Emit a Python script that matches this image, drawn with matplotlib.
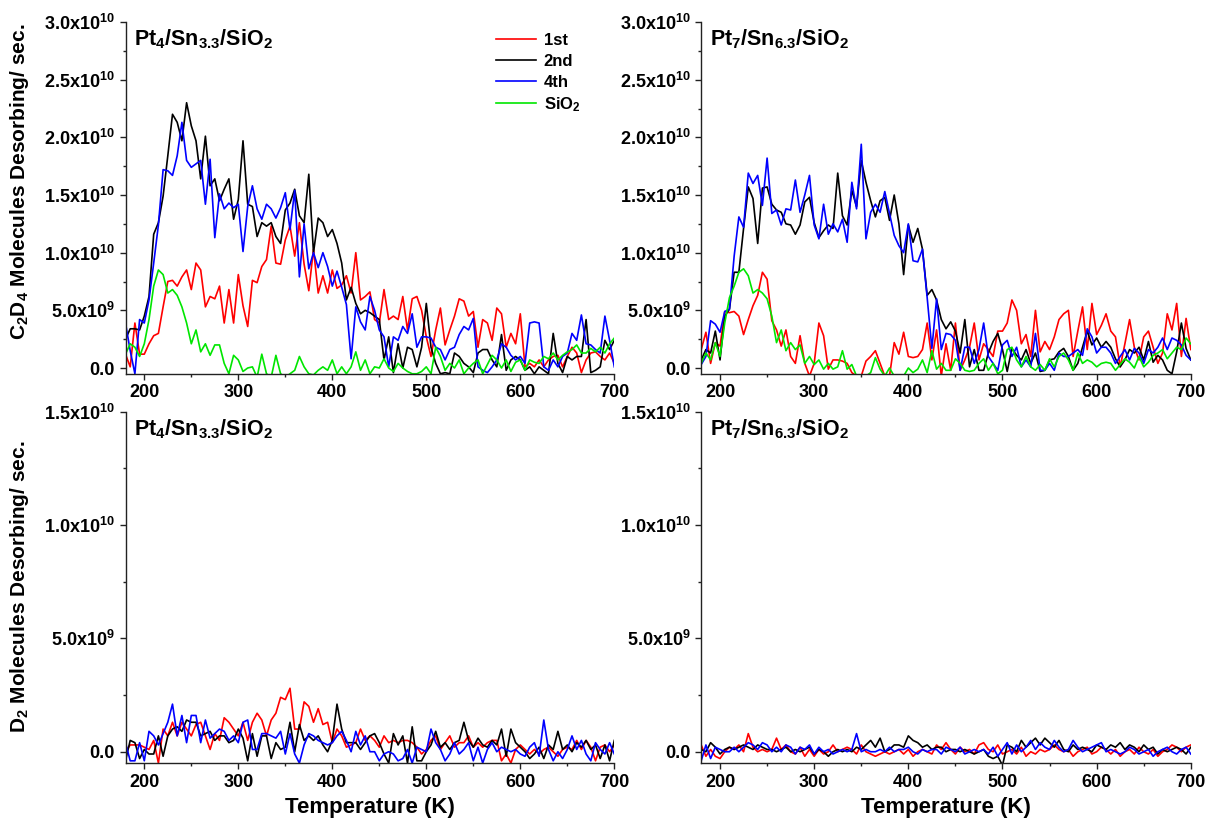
import numpy as np
import matplotlib
matplotlib.use("Agg")
import matplotlib.pyplot as plt
from matplotlib.ticker import FixedLocator, MultipleLocator, FuncFormatter

plt.rcParams['font.family'] = ['Liberation Sans', 'DejaVu Sans']
plt.rcParams['font.weight'] = 'bold'
plt.rcParams['mathtext.fontset'] = 'custom'
plt.rcParams['mathtext.rm'] = 'Liberation Sans:bold'
plt.rcParams['mathtext.bf'] = 'Liberation Sans:bold'
plt.rcParams['mathtext.it'] = 'Liberation Sans:bold:italic'
plt.rcParams['mathtext.sf'] = 'Liberation Sans:bold'
plt.rcParams['mathtext.default'] = 'bf'

# Temperature grid (K)
temperature = np.arange(180, 701, 5)
UNIT = 1e9  # values below are in units of 1e9 molecules/s

# ---- C2D4, Pt4/Sn3.3/SiO2 ----
c2d4_pt4_1st = [
    1.2, 0.1, 3.9, 1.2, 1.2, 2.1, 2.8, 3.0, 5.3, 7.5,
    7.6, 7.1, 7.9, 8.5, 6.8, 9.1, 8.5, 5.3, 6.2, 6.0,
    7.1, 3.9, 6.8, 3.9, 8.1, 5.4, 3.6, 7.6, 7.4, 8.8,
    9.4, 12.3, 9.1, 9.0, 11.1, 12.3, 9.7, 12.6, 9.0, 6.7,
    10.3, 6.5, 8.0, 6.5, 8.5, 6.9, 7.2, 8.0, 6.5, 10.0,
    5.9, 6.2, 6.6, 4.2, 3.9, 6.8, 4.2, 4.5, 4.2, 6.2,
    3.3, 6.0, 6.2, 5.0, 2.7, 1.0, 3.3, 5.2, 2.0, 3.3,
    4.5, 6.0, 5.8, 4.5, 4.9, 1.8, 4.2, 3.9, 2.4, 5.2,
    4.7, 1.8, 3.0, 2.1, 4.7, 0.1, 0.4, 0.1, 0.7, 0.1,
    0.7, 1.0, 1.1, 0.1, 1.0, 1.8, 1.3, -0.4, 0.7, 1.3,
    1.4, 1.0, 0.7, 1.3, 0.4]
c2d4_pt4_2nd = [
    2.5, 3.4, 3.4, 3.3, 4.5, 6.2, 11.6, 12.6, 14.9, 18.4,
    22.0, 21.3, 19.7, 23.0, 21.0, 19.7, 16.4, 20.1, 15.8, 16.4,
    14.5, 15.5, 16.4, 12.9, 14.6, 19.7, 14.2, 14.0, 11.4, 12.6,
    12.3, 12.6, 11.4, 10.8, 13.7, 14.3, 15.5, 13.2, 12.6, 16.8,
    10.0, 13.0, 12.6, 11.4, 12.0, 10.8, 9.1, 5.9, 7.0, 5.6,
    4.7, 5.0, 4.8, 4.5, 4.2, 0.7, 2.7, -0.4, 2.1, 0.0,
    1.8, 1.6, 0.1, 1.8, 5.6, 1.8, 0.4, -0.5, -0.4, -0.5,
    1.3, 1.0, 0.4, 0.1, -0.4, 1.3, 1.6, 1.6, 0.7, 0.1,
    2.9, -0.2, 0.7, 1.0, 0.7, -0.2, 0.1, -0.5, 0.1, -0.2,
    -0.5, 3.0, 0.4, -0.4, 1.0, 0.7, 1.0, 1.0, 4.2, -0.4,
    -0.2, 0.1, 2.4, 1.6, 2.4]
c2d4_pt4_4th = [
    3.9, 1.5, -0.5, 4.2, 3.9, 5.9, 9.1, 12.4, 17.2, 17.1,
    16.7, 18.4, 21.3, 18.0, 17.4, 17.7, 18.0, 14.2, 18.1, 11.3,
    15.1, 13.8, 14.3, 13.9, 14.2, 10.1, 14.0, 15.8, 13.8, 12.9,
    14.2, 13.8, 13.0, 13.9, 15.2, 12.0, 15.4, 7.9, 12.5, 8.6,
    10.0, 8.7, 10.0, 8.8, 7.1, 8.4, 7.0, 5.5, 0.8, 5.3,
    4.0, 3.3, 6.2, 5.0, 3.3, 2.7, 0.1, 2.7, 2.4, 3.6,
    3.0, 4.7, 1.8, 2.7, 2.7, 2.6, 1.8, 1.6, 0.7, 1.6,
    1.8, 2.9, 3.6, 3.3, 4.3, 0.1, -0.2, -0.4, 0.1, 0.7,
    2.1, 1.8, 1.1, 0.7, 1.0, 0.4, 3.9, 4.0, 3.9, 0.1,
    -0.2, 0.7, 0.1, 1.0, 1.3, 3.0, 2.4, 4.6, 2.1, 2.0,
    1.6, 1.3, 4.5, 2.4, 0.1]
c2d4_pt4_sio2 = [
    1.2, 2.1, 1.8, 1.0, 2.1, 4.2, 7.1, 8.5, 8.1, 6.5,
    6.8, 6.3, 5.3, 3.9, 2.1, 3.3, 1.4, 2.1, 1.1, 2.0,
    2.0, 0.4, -0.5, 1.1, 0.7, -0.3, 0.0, 0.1, -0.8, 1.2,
    -0.5, -0.8, 1.1, -0.5, -0.8, -0.5, -0.2, 1.0, 0.1, -0.5,
    -0.6, -0.2, 0.1, -0.2, 0.7, -0.5, 0.1, -0.5, 0.1, 1.4,
    -0.2, 0.7, -0.5, 0.1, 0.0, 0.8, 0.0, -0.3, 0.4, 0.0,
    -0.3, -0.5, -0.5, -0.3, 0.1, -0.5, 1.8, 1.0, -0.2, 0.4,
    0.0, 0.7, -0.5, 0.0, 0.4, 0.7, -0.5, 0.3, 1.1, 0.7,
    0.0, 0.7, -0.3, 0.5, 0.7, -0.2, 0.7, 0.5, 0.4, 1.0,
    0.8, 1.3, 0.7, 1.1, 1.4, 1.6, 2.0, 1.3, 1.3, 1.7,
    1.4, 1.8, 1.3, 2.1, 2.6]

# ---- C2D4, Pt7/Sn6.3/SiO2 ----
c2d4_pt7_1st = [
    1.6, 3.1, 0.4, 2.2, 1.9, 4.9, 4.8, 4.9, 4.5, 2.9,
    4.2, 5.4, 6.3, 8.3, 7.7, 4.1, 3.3, 1.9, 3.3, 1.0,
    0.4, 2.8, 0.4, -0.7, 0.4, 3.9, 2.8, -0.1, 0.7, 0.7,
    0.6, 0.4, -0.4, -0.7, -0.7, 0.6, 1.0, 1.5, 0.4, -0.7,
    -0.7, 2.2, 1.2, 3.1, 1.0, 0.9, 1.0, 1.6, 3.9, 0.7,
    3.3, -0.7, 2.1, -0.2, 3.9, -0.2, 0.7, 1.8, 3.9, 0.7,
    2.1, 1.6, 1.0, 3.2, 3.2, 3.9, 5.9, 5.0, 2.1, 2.9,
    1.0, 5.0, 1.4, 2.3, 1.6, 2.7, 4.2, 4.7, 5.0, 1.0,
    3.2, 5.3, 1.6, 5.6, 2.9, 3.7, 4.7, 3.2, 2.7, 0.1,
    2.1, 4.2, 1.8, 0.7, 2.7, 3.2, 1.8, 0.4, 1.3, 4.7,
    3.3, 5.6, 1.0, 4.3, 1.6]
c2d4_pt7_2nd = [
    0.7, 1.6, 1.3, 3.2, 0.7, 4.5, 5.1, 8.3, 8.3, 12.1,
    15.7, 14.7, 10.8, 15.6, 15.7, 14.2, 13.7, 13.5, 12.5, 12.4,
    11.6, 12.4, 14.4, 14.8, 12.6, 11.3, 11.9, 12.4, 12.1, 16.9,
    13.2, 12.4, 15.4, 14.0, 18.0, 16.1, 14.5, 13.1, 14.5, 14.8,
    12.8, 15.0, 12.5, 8.1, 12.4, 10.9, 12.1, 10.3, 6.3, 6.8,
    5.9, 4.2, 3.4, 4.0, 3.2, 1.3, 4.2, 0.1, 1.6, -0.2,
    -0.2, 1.3, 2.3, 3.0, 1.6, -0.3, 1.7, 1.1, 0.7, 1.6,
    0.4, 1.3, -0.3, -0.2, 0.7, 0.8, 1.4, 1.7, 1.0, -0.2,
    0.4, 1.8, 3.2, 2.0, 2.6, 1.8, 2.3, 1.8, 0.8, 0.1,
    0.7, 1.6, 1.3, 1.8, 0.7, 2.3, 0.5, 1.1, 0.7, -0.2,
    -0.5, 1.4, 3.9, 1.7, 0.7]
c2d4_pt7_4th = [
    0.3, 1.0, 4.1, 3.8, 3.1, 4.9, 5.1, 9.7, 13.1, 12.2,
    16.9, 16.0, 16.7, 14.1, 18.2, 13.4, 13.7, 12.4, 13.8, 13.7,
    16.3, 13.5, 15.0, 16.7, 12.4, 11.2, 14.2, 11.6, 12.5, 11.8,
    12.9, 10.9, 16.1, 13.8, 19.4, 11.2, 13.5, 14.2, 13.5, 15.3,
    13.4, 11.5, 10.6, 10.0, 12.5, 9.3, 9.2, 10.3, 6.1, 1.7,
    6.0, 1.6, 3.0, 2.9, 2.4, -0.2, 1.8, 1.8, 0.4, 1.6,
    3.9, 1.0, 0.4, -0.2, 2.0, 2.4, 1.0, 1.8, 0.1, 0.7,
    0.1, 3.0, -0.2, -0.2, 0.4, -0.2, 1.3, 1.0, 1.0, 1.3,
    1.6, 1.1, 3.4, 2.7, 1.3, 1.8, 1.8, 1.3, 0.4, 1.0,
    1.6, 0.7, 1.7, 1.3, 0.4, 1.6, 1.3, 1.8, 2.6, 1.6,
    2.6, 2.4, 2.0, 1.1, 0.7]
c2d4_pt7_sio2 = [
    0.4, 1.3, 0.7, 2.2, 1.0, 3.9, 6.1, 7.1, 8.3, 8.6,
    8.0, 6.5, 6.8, 6.5, 6.0, 4.5, 2.2, 3.3, 1.5, 2.2,
    1.6, 2.0, 0.4, 1.0, 0.3, 0.7, -0.1, 0.4, -0.1, 0.1,
    1.5, -0.1, 0.3, -0.7, -0.7, -0.7, -0.4, 0.9, -0.1, -0.7,
    0.0, -0.7, -0.7, -0.7, 0.0, -0.4, -0.1, 0.7, -0.4, 1.5,
    -0.1, 0.4, -0.2, -0.2, 0.8, 0.4, -0.2, -0.3, -0.2, 0.4,
    0.8, -0.2, 0.4, -0.5, -0.2, 1.6, 1.8, 0.7, 0.1, 1.0,
    0.1, -0.2, 0.3, -0.2, 0.8, 0.1, 1.0, 1.3, 0.7, -0.2,
    1.3, 0.4, 0.7, 0.5, 0.1, 0.4, 0.5, 0.4, -0.2, 0.3,
    0.8, 0.5, 0.0, 1.0, 0.1, 0.5, 1.1, 1.3, 1.6, 0.8,
    1.3, 1.8, 1.6, 2.6, 2.1]

# ---- D2, Pt4/Sn3.3/SiO2 ----
d2_pt4_1st = [
    0.0, 0.3, 0.3, 0.3, 0.2, 0.1, 0.5, -0.5, 1.0, 0.7,
    1.3, 0.7, 1.3, 1.0, 0.7, 1.2, 1.3, 0.7, 0.1, 0.8,
    0.5, 1.5, 1.3, 1.0, 0.7, 1.3, 0.5, 1.3, 1.7, 1.4,
    0.7, 1.4, 1.7, 2.4, 2.3, 2.8, 1.0, 1.0, 2.2, 2.0,
    1.3, 1.9, 1.2, 1.3, 0.4, 1.0, 0.7, 0.2, 0.3, 0.4,
    1.0, 0.5, 0.7, 0.5, 0.2, 0.7, 0.4, 0.5, 0.4, 0.5,
    0.5, 0.4, 0.2, -0.1, 0.1, 0.5, 0.7, 0.1, 0.4, 0.7,
    0.2, 0.4, 0.4, 0.7, 0.2, 0.4, 0.2, 0.4, 0.5, 0.5,
    -0.4, -0.1, -0.5, 0.1, 0.3, 0.1, -0.1, 0.1, -0.1, 0.1,
    0.2, 0.0, -0.2, 0.1, 0.2, 0.1, 0.5, 0.1, 0.5, 0.2,
    -0.4, 0.2, 0.3, 0.0, 0.3]
d2_pt4_2nd = [
    -0.4, 0.5, 0.4, -0.3, 0.1, -0.1, -0.1, 0.7, -0.2, 0.7,
    1.0, 1.1, 0.9, 1.4, 1.3, 1.3, 0.7, 0.8, 0.9, 0.5,
    0.7, 0.7, 0.4, 0.5, 1.0, 0.6, -0.4, 0.8, -0.2, 0.7,
    0.7, -0.3, 0.4, 0.1, 0.2, 1.3, 0.0, 1.2, 0.5, 0.7,
    0.5, 0.7, 0.3, 0.0, 0.5, 2.1, 1.0, 0.4, 0.4, 0.4,
    0.1, 0.4, 0.7, 0.8, 0.4, -0.1, -0.5, 0.8, 0.3, 0.7,
    -0.5, 1.1, -0.4, -0.4, 0.0, 0.3, 0.9, 0.2, 0.4, 0.1,
    0.4, 0.5, 1.3, 0.5, 0.2, 0.6, 0.3, 0.2, 0.5, 0.3,
    1.0, -0.2, 1.0, 0.4, 0.2, 0.0, -0.3, -0.1, 0.2, -0.3,
    0.3, 0.1, 0.9, 0.1, 0.3, 0.0, 0.4, 0.2, 0.5, 0.1,
    0.3, -0.3, 0.3, -0.4, 0.5]
d2_pt4_4th = [
    0.4, -0.4, -0.4, 0.4, -0.4, 0.9, 0.7, 0.3, 0.8, 1.3,
    2.1, 0.7, 1.6, 0.4, 1.6, 1.6, 0.4, 1.4, 0.6, 0.8,
    1.0, 0.9, 0.5, 0.7, 0.4, 1.3, 1.4, 0.1, 0.1, 0.8,
    0.8, 0.7, 0.6, 0.9, -0.1, 0.8, -0.1, -0.5, 0.3, 0.8,
    0.7, 0.5, 0.4, 0.3, 0.4, 0.7, 0.9, 0.5, 0.0, 0.9,
    0.3, 0.7, 0.0, 0.0, -0.4, -0.1, 0.0, -0.1, -0.4, -0.3,
    0.1, -0.5, 0.2, 0.1, 0.0, 1.0, 0.4, 0.1, -0.4, -0.1,
    0.4, -0.1, 0.1, 0.4, -0.4, 0.2, -0.5, 0.1, 0.4, 0.0,
    0.2, 0.1, 0.0, 0.1, -0.1, -0.2, 0.2, 0.4, -0.2, 1.4,
    0.1, -0.4, 0.0, -0.3, 0.1, 0.7, 0.1, 0.5, -0.1, -0.4,
    0.4, 0.1, -0.1, 0.4, -0.1]

# ---- D2, Pt7/Sn6.3/SiO2 ----
d2_pt7_1st = [
    0.3, -0.2, 0.1, -0.2, -0.3, 0.0, 0.2, 0.1, 0.3, 0.0,
    0.8, 0.2, 0.0, 0.1, 0.0, 0.1, 0.6, 0.1, 0.3, 0.0,
    -0.1, 0.2, -0.2, 0.1, -0.2, 0.1, -0.1, 0.0, 0.3, 0.0,
    0.1, 0.2, 0.1, -0.1, 0.3, 0.0, -0.1, -0.2, -0.1, 0.0,
    -0.1, 0.0, 0.1, -0.1, 0.1, -0.2, 0.0, 0.1, 0.0, -0.1,
    0.3, 0.1, 0.4, 0.1, -0.1, 0.2, 0.0, 0.1, -0.1, 0.3,
    0.4, 0.1, 0.0, 0.3, -0.1, 0.0, 0.1, -0.1, 0.2, -0.2,
    0.0, -0.1, 0.1, 0.0, 0.1, 0.3, 0.1, 0.0, 0.1, -0.2,
    0.0, 0.1, 0.2, -0.1, 0.0, 0.2, 0.1, -0.1, 0.1, -0.2,
    0.0, 0.1, -0.1, 0.2, 0.0, -0.1, 0.1, -0.2, 0.0, 0.1,
    0.3, 0.2, 0.0, 0.2, 0.3]
d2_pt7_2nd = [
    0.1, 0.0, 0.4, 0.2, -0.1, 0.1, 0.2, 0.1, 0.2, 0.3,
    0.2, 0.1, 0.3, 0.2, 0.1, 0.1, 0.0, 0.1, 0.2, 0.0,
    0.1, 0.0, 0.1, 0.2, -0.1, 0.1, 0.0, -0.2, 0.0, 0.1,
    0.0, 0.1, 0.0, 0.2, 0.1, 0.3, 0.5, 0.2, 0.6, 0.0,
    0.1, 0.3, 0.3, 0.2, 0.7, 0.5, 0.4, 0.2, 0.3, 0.1,
    0.2, 0.2, 0.0, 0.1, 0.1, 0.0, 0.1, 0.0, -0.1, 0.0,
    0.1, -0.2, -0.3, -0.2, -0.6, 0.3, 0.2, 0.0, 0.5, 0.2,
    0.4, 0.6, 0.3, 0.6, 0.4, 0.2, 0.5, 0.1, 0.0, 0.3,
    0.1, 0.2, 0.1, 0.0, 0.3, 0.2, 0.1, 0.3, 0.2, 0.4,
    0.1, 0.3, 0.2, 0.0, 0.3, 0.1, 0.2, -0.1, 0.1, 0.0,
    0.1, 0.2, 0.1, -0.1, 0.2]
d2_pt7_4th = [
    -0.4, 0.3, -0.3, 0.2, 0.1, 0.0, 0.0, 0.2, 0.0, 0.2,
    0.4, 0.3, 0.1, 0.4, 0.3, 0.0, 0.2, 0.0, 0.3, 0.2,
    -0.1, 0.2, 0.1, 0.3, -0.1, 0.2, 0.0, 0.1, -0.1, 0.0,
    0.1, 0.0, 0.1, 0.8, 0.0, 0.1, 0.0, 0.0, 0.1, 0.0,
    0.2, 0.0, 0.1, 0.1, 0.2, 0.0, -0.1, 0.1, 0.0, 0.1,
    0.1, -0.1, 0.2, 0.1, 0.0, 0.2, -0.1, 0.0, 0.1, 0.0,
    0.1, -0.1, 0.2, -0.2, 0.1, 0.4, -0.1, 0.3, 0.0, 0.2,
    0.5, 0.1, 0.4, 0.2, 0.1, 0.5, 0.2, 0.0, 0.1, 0.5,
    0.2, 0.0, 0.1, 0.2, 0.3, 0.4, 0.0, 0.1, 0.0, -0.1,
    0.0, 0.2, 0.1, -0.1, 0.0, 0.1, -0.2, 0.0, 0.1, 0.2,
    0.0, -0.1, 0.1, 0.2, -0.1]

series_labels = ['1st', '2nd', '4th', 'SiO$_2$']
series_colors = ['#FF0000', '#000000', '#0000FF', '#00E600']
panel_titles = ['Pt$_4$/Sn$_{3.3}$/SiO$_2$', 'Pt$_7$/Sn$_{6.3}$/SiO$_2$']
x_ticks = [200, 300, 400, 500, 600, 700]
top_yticks = [0, 5e9, 1e10, 1.5e10, 2e10, 2.5e10, 3e10]
bot_yticks = [0, 5e9, 1e10, 1.5e10]


def sci_fmt(v, pos):
    if v == 0:
        return '0.0'
    e = int(np.floor(np.log10(abs(v)) + 1e-9))
    m = v / 10 ** e
    return f'{m:.1f}x10$^{{{e}}}$'


fig = plt.figure(figsize=(12.09, 8.22), dpi=100)
W, H = 1209, 822


def make_ax(x0, x1, ytop, ybot):
    return fig.add_axes([x0 / W, 1 - ybot / H, (x1 - x0) / W, (ybot - ytop) / H])


ax_tl = make_ax(125.5, 614.3, 22, 374)
ax_tr = make_ax(701.2, 1190.8, 22, 374)
ax_bl = make_ax(125.5, 614.3, 411.7, 763.3)
ax_br = make_ax(701.2, 1190.8, 411.7, 763.3)

top_data = [
    [c2d4_pt4_1st, c2d4_pt4_2nd, c2d4_pt4_4th, c2d4_pt4_sio2],
    [c2d4_pt7_1st, c2d4_pt7_2nd, c2d4_pt7_4th, c2d4_pt7_sio2],
]
bot_data = [
    [d2_pt4_1st, d2_pt4_2nd, d2_pt4_4th],
    [d2_pt7_1st, d2_pt7_2nd, d2_pt7_4th],
]


def style(ax, yticks, ylim, title):
    ax.set_xlim(180, 700)
    ax.set_ylim(*ylim)
    for s in ['top', 'right']:
        ax.spines[s].set_visible(False)
    for s in ['left', 'bottom']:
        ax.spines[s].set_linewidth(1.0)
        ax.spines[s].set_color('#222222')
    ax.xaxis.set_major_locator(FixedLocator(x_ticks))
    ax.xaxis.set_minor_locator(MultipleLocator(50))
    ax.yaxis.set_major_locator(FixedLocator(yticks))
    ax.yaxis.set_minor_locator(MultipleLocator(2.5e9))
    ax.yaxis.set_major_formatter(FuncFormatter(sci_fmt))
    ax.tick_params(which='major', direction='out', length=4.5, width=1.0,
                   labelsize=13, color='#222222')
    ax.tick_params(which='minor', direction='out', length=2.5, width=1.0,
                   color='#222222')
    ax.tick_params(axis='y', pad=3)
    ax.tick_params(axis='x', pad=3)
    for lab in ax.get_xticklabels() + ax.get_yticklabels():
        lab.set_fontweight('bold')
    ax.text(0.018, 0.985, title, transform=ax.transAxes, ha='left', va='top',
            fontsize=15.5, fontweight='bold')


for ax, data, title in zip([ax_tl, ax_tr], top_data, panel_titles):
    for vals, col, lab in zip(data, series_colors, series_labels):
        ax.plot(temperature, np.array(vals) * UNIT, color=col, lw=1.2, label=lab)
    style(ax, top_yticks, (-0.52e9, 3.0e10), title)

for ax, data, title in zip([ax_bl, ax_br], bot_data, panel_titles):
    for vals, col, lab in zip(data, series_colors, series_labels):
        ax.plot(temperature, np.array(vals) * UNIT, color=col, lw=1.2, label=lab)
    style(ax, bot_yticks, (-0.51e9, 1.5e10), title)

leg = ax_tl.legend(loc='upper left', bbox_to_anchor=(0.758, 0.968), frameon=False,
                   fontsize=12, handlelength=2.4, handletextpad=0.45,
                   labelspacing=0.34, borderpad=0, borderaxespad=0)
for t in leg.get_texts():
    t.set_fontweight('bold')

fig.text(20 / W, 1 - 182 / H, 'C$_2$D$_4$ Molecules Desorbing/ sec.', rotation=90,
         ha='center', va='center', fontsize=15, fontweight='bold')
fig.text(20 / W, 1 - 587 / H, 'D$_2$ Molecules Desorbing/ sec.', rotation=90,
         ha='center', va='center', fontsize=15, fontweight='bold')
fig.text(370 / W, 1 - 807 / H, 'Temperature (K)', ha='center', va='center',
         fontsize=16, fontweight='bold')
fig.text(946 / W, 1 - 807 / H, 'Temperature (K)', ha='center', va='center',
         fontsize=16, fontweight='bold')

fig.savefig('out.png', dpi=100)
